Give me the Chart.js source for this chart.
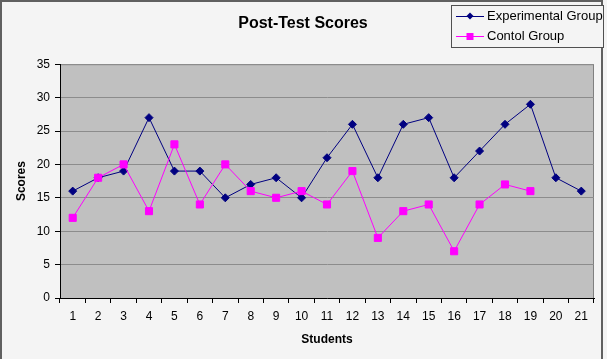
<!DOCTYPE html>
<html>
<head>
<meta charset="utf-8">
<script src="https://cdn.jsdelivr.net/npm/chart.js@4"></script>
<style>
  html, body { margin: 0; padding: 0; background: #f4f4f4; }
  #wrap { width: 607px; height: 359px; }
</style>
</head>
<body>
<div id="wrap"><canvas id="lineChart" width="607" height="359"></canvas></div>
<script>
const students = ['1', '2', '3', '4', '5', '6', '7', '8', '9', '10', '11',
  '12', '13', '14', '15', '16', '17', '18', '19', '20', '21'];
const experimentalScores = [16, 18, 19, 27, 19, 19, 15, 17, 18, 15, 21, 26, 18, 26, 27, 18, 22, 26, 29, 18, 16];
const controlScores = [12, 18, 20, 13, 23, 14, 20, 16, 15, 16, 14, 19, 9, 13, 14, 7, 14, 17, 16, null, null];
const scoreTicks = [0, 5, 10, 15, 20, 25, 30, 35];

const FONT = 'Arial, "Liberation Sans", sans-serif';

// frame + grey plot area, like the old spreadsheet look
const backdrop = {
  id: 'backdrop',
  beforeDraw(chart) {
    const { ctx, chartArea: a } = chart;
    ctx.save();
    ctx.fillStyle = '#f4f4f4';
    ctx.fillRect(0, 0, chart.width, chart.height);
    ctx.strokeStyle = '#606060';
    ctx.lineWidth = 2;
    ctx.strokeRect(1, 1, 601, 362);
    ctx.fillStyle = '#c0c0c0';
    ctx.fillRect(a.left, a.top, a.right - a.left, a.bottom - a.top);
    ctx.strokeStyle = '#808080';
    ctx.lineWidth = 1;
    ctx.beginPath();
    ctx.moveTo(a.left, a.top + 0.5);
    ctx.lineTo(a.right - 0.5, a.top + 0.5);
    ctx.lineTo(a.right - 0.5, a.bottom);
    ctx.stroke();
    ctx.restore();
  }
};

// boxed legend in the top right corner
const boxLegend = {
  id: 'boxLegend',
  afterDraw(chart) {
    const ctx = chart.ctx;
    ctx.save();
    ctx.fillStyle = '#f4f4f4';
    ctx.fillRect(451, 5, 152, 42);
    ctx.strokeStyle = '#505050';
    ctx.lineWidth = 1;
    ctx.strokeRect(451.5, 5.5, 152, 42);
    chart.data.datasets.forEach((ds, i) => {
      const y = 16 + i * 20;
      ctx.strokeStyle = ds.borderColor;
      ctx.lineWidth = 1;
      ctx.beginPath();
      ctx.moveTo(456, y + 0.5);
      ctx.lineTo(484, y + 0.5);
      ctx.stroke();
      ctx.fillStyle = ds.pointBackgroundColor;
      ctx.beginPath();
      if (ds.pointStyle === 'rectRot') {
        ctx.moveTo(470, y - 3.5);
        ctx.lineTo(473.5, y);
        ctx.lineTo(470, y + 3.5);
        ctx.lineTo(466.5, y);
        ctx.closePath();
      } else {
        ctx.rect(466.5, y - 3, 7, 7);
      }
      ctx.fill();
      ctx.fillStyle = '#000';
      ctx.font = '13px ' + FONT;
      ctx.textBaseline = 'middle';
      ctx.fillText(ds.label, 487, y);
    });
    ctx.restore();
  }
};

const ctx = document.getElementById('lineChart').getContext('2d');

new Chart(ctx, {
  type: 'line',
  data: {
    labels: students,
    datasets: [
      {
        label: 'Experimental Group',
        data: experimentalScores,
        borderColor: '#000080',
        backgroundColor: '#000080',
        pointBackgroundColor: '#000080',
        pointBorderColor: '#000080',
        pointStyle: 'rectRot',
        pointRadius: 4,
        borderWidth: 1,
        tension: 0,
        order: 1
      },
      {
        label: 'Contol Group',
        data: controlScores,
        borderColor: '#ff00ff',
        backgroundColor: '#ff00ff',
        pointBackgroundColor: '#ff00ff',
        pointBorderColor: '#ff00ff',
        pointStyle: 'rect',
        pointRadius: 5,
        borderWidth: 1,
        tension: 0,
        order: 0
      }
    ]
  },
  options: {
    responsive: false,
    animation: false,
    layout: {
      padding: { left: 12, right: 13, top: 0, bottom: 0 }
    },
    plugins: {
      legend: { display: false },
      tooltip: { enabled: false },
      title: {
        display: true,
        text: 'Post-Test Scores',
        color: '#000',
        font: { family: FONT, size: 16, weight: 'bold' },
        padding: { top: 14, bottom: 31 }
      }
    },
    scales: {
      x: {
        offset: true,
        grid: {
          offset: true,
          drawOnChartArea: false,
          tickLength: 5,
          tickColor: '#000'
        },
        border: { color: '#000', width: 1 },
        ticks: {
          color: '#000',
          font: { family: FONT, size: 12 },
          padding: 6,
          maxRotation: 0,
          autoSkip: false
        },
        title: {
          display: true,
          text: 'Students',
          color: '#000',
          font: { family: FONT, size: 12, weight: 'bold' },
          padding: { top: 0, bottom: 12 }
        },
        afterFit(scale) { scale.height = 61; }
      },
      y: {
        min: 0,
        max: 35,
        afterBuildTicks(scale) {
          scale.ticks = scoreTicks.map(v => ({ value: v }));
        },
        grid: {
          color: '#8c8c8c',
          tickColor: '#000',
          tickLength: 5
        },
        border: { color: '#000', width: 1 },
        ticks: {
          color: '#000',
          font: { family: FONT, size: 12 },
          padding: 5
        },
        title: {
          display: true,
          text: 'Scores',
          color: '#000',
          font: { family: FONT, size: 12, weight: 'bold' },
          padding: { top: 2, bottom: 0 }
        },
        afterFit(scale) { scale.width = 48; }
      }
    }
  },
  plugins: [backdrop, boxLegend]
});
</script>
</body>
</html>
